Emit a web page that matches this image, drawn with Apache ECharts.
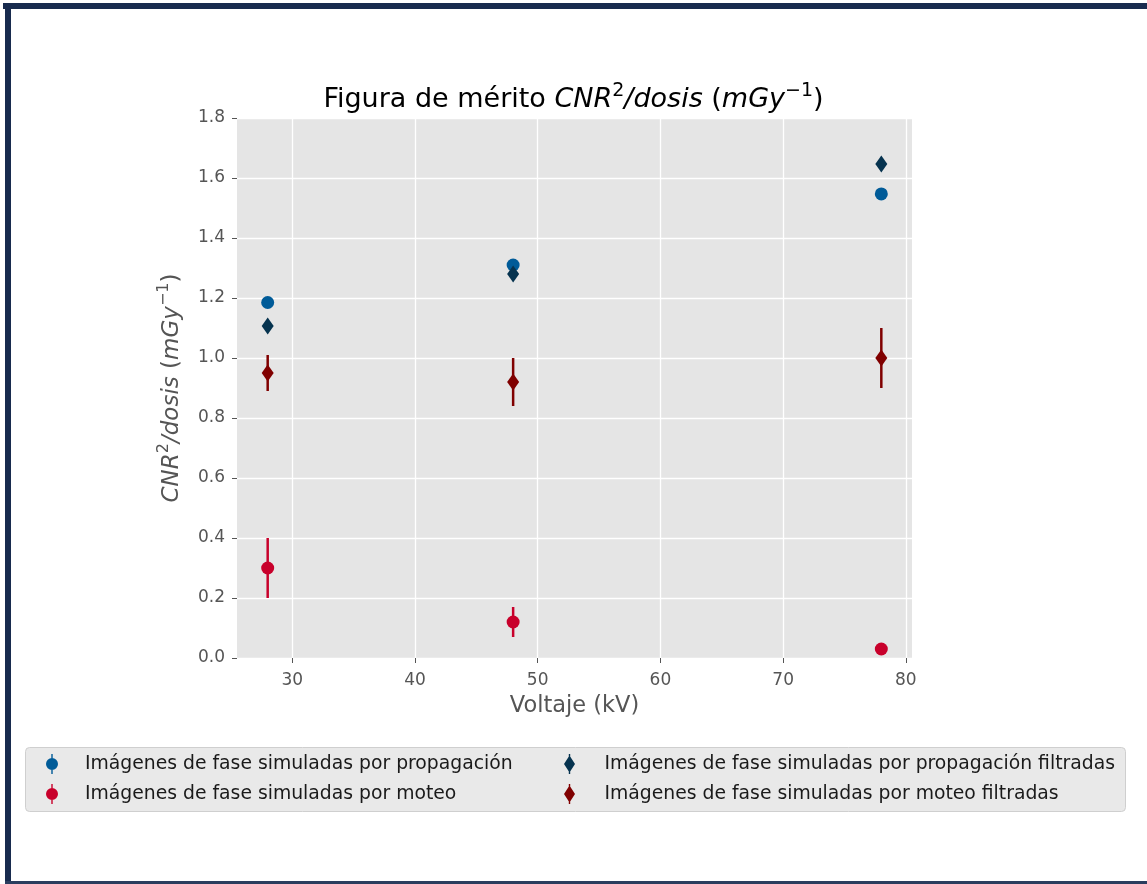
<!DOCTYPE html>
<html>
<head>
<meta charset="utf-8">
<title>Figura de mérito CNR²/dosis</title>
<script src="https://cdn.jsdelivr.net/npm/echarts@6/dist/echarts.min.js"></script>
<style>
  html, body { margin: 0; padding: 0; background: #ffffff; }
  #chart { width: 1147px; height: 884px; }
</style>
</head>
<body>
<div id="chart"></div>
<script>
// Tube voltage (kV) of each acquisition
const voltages = [28, 48, 78];

// CNR^2 / dose (mGy^-1) and its uncertainty for each image set
const propValues = [1.185, 1.31, 1.547];
const propErrors = [0.01, 0.01, 0.01];
const propFiltValues = [1.107, 1.28, 1.647];
const propFiltErrors = [0.01, 0.01, 0.01];
const moteoValues = [0.30, 0.12, 0.03];
const moteoErrors = [0.10, 0.05, 0.01];
const moteoFiltValues = [0.95, 0.92, 1.0];
const moteoFiltErrors = [0.06, 0.08, 0.10];

const xTicks = [30, 40, 50, 60, 70, 80];

const seriesNames = [
  'Imágenes de fase simuladas por propagación',
  'Imágenes de fase simuladas por moteo',
  'Imágenes de fase simuladas por propagación filtradas',
  'Imágenes de fase simuladas por moteo filtradas'
];

const FONT = 'DejaVu Sans';
const colors = ['#005b98', '#c8002b', '#06334f', '#800000'];
const symbols = ['circle', 'circle', 'diamond', 'diamond'];
const symbolSizes = [13, 13, [12, 17], [12, 17]];

// Legend glyphs: marker with a vertical error bar through it
const circleIcon = 'path://M5.3,0h1.4v20h-1.4z M0,10a6,6 0 1,1 12,0a6,6 0 1,1 -12,0z';
const diamondIcon = 'path://M5.3,0h1.4v20h-1.4z M6,1.5L11.5,10L6,18.5L0.5,10z';
const icons = [circleIcon, circleIcon, diamondIcon, diamondIcon];

const groups = [
  [propValues, propErrors],
  [moteoValues, moteoErrors],
  [propFiltValues, propFiltErrors],
  [moteoFiltValues, moteoFiltErrors]
];

const series = [];
groups.forEach(function (g, i) {
  const rows = voltages.map(function (v, k) { return [v, g[0][k], g[1][k]]; });
  series.push({
    name: seriesNames[i],
    type: 'custom',
    z: 2 + i * 2,
    data: rows,
    encode: { x: 0, y: 1 },
    renderItem: function (params, api) {
      const x = api.value(0), y = api.value(1), e = api.value(2);
      const lo = api.coord([x, y - e]);
      const hi = api.coord([x, y + e]);
      return {
        type: 'line',
        shape: { x1: lo[0], y1: lo[1], x2: hi[0], y2: hi[1] },
        style: { stroke: colors[i], lineWidth: 2.5 }
      };
    }
  });
  series.push({
    name: seriesNames[i],
    type: 'scatter',
    z: 3 + i * 2,
    symbol: symbols[i],
    symbolSize: symbolSizes[i],
    itemStyle: { color: colors[i], opacity: 1 },
    data: rows.map(function (r) { return [r[0], r[1]]; })
  });
});

function legendData(idx) {
  return idx.map(function (i) {
    return { name: seriesNames[i], icon: icons[i], itemStyle: { color: colors[i] } };
  });
}

function legendColumn(left, textIndent, idx) {
  return {
    orient: 'vertical',
    left: left,
    top: 754,
    itemWidth: 12,
    itemHeight: 20,
    itemGap: 10,
    padding: 0,
    data: legendData(idx),
    textStyle: {
      fontFamily: FONT, fontSize: 18.8, color: '#1a1a1a',
      padding: [0, 0, 0, textIndent]
    }
  };
}

const chart = echarts.init(document.getElementById('chart'), null, { renderer: 'canvas' });

chart.setOption({
  animation: false,
  backgroundColor: '#ffffff',
  textStyle: { fontFamily: FONT },
  title: {
    left: 'center',
    top: 77,
    text: '{n|Figura de mérito }{i|CNR}{s|2}{i|/dosis}{n| (}{i|mGy}{s|−1}{n|)}',
    textStyle: {
      fontWeight: 'normal',
      rich: {
        n: { fontFamily: FONT, fontSize: 27, lineHeight: 36, fontWeight: 'normal', color: '#000000' },
        i: { fontFamily: FONT, fontSize: 27, lineHeight: 36, fontWeight: 'normal', color: '#000000', fontStyle: 'italic' },
        s: { fontFamily: FONT, fontSize: 19, lineHeight: 22, fontWeight: 'normal', color: '#000000', verticalAlign: 'top' }
      }
    }
  },
  graphic: [
    // legend frame
    { type: 'rect', left: 25, top: 747, z: -1, silent: true,
      shape: { width: 1100, height: 64, r: 4 },
      style: { fill: '#e9e9e9', stroke: '#cfcfcf', lineWidth: 1 } },
    // page frame
    { type: 'rect', left: 3, top: 3, silent: true, shape: { width: 1144, height: 6 }, style: { fill: '#182b4e' } },
    { type: 'rect', left: 5, top: 3, silent: true, shape: { width: 6, height: 881 }, style: { fill: '#182b4e' } },
    { type: 'rect', left: 5, top: 881, silent: true, shape: { width: 1142, height: 3 }, style: { fill: '#2a3d5e' } }
  ],
  legend: [
    legendColumn(46, 22, [0, 1]),
    legendColumn(564, 24, [2, 3])
  ],
  grid: {
    left: 237, right: 235, top: 118, bottom: 226,
    show: true, backgroundColor: '#e5e5e5', borderWidth: 0
  },
  xAxis: {
    type: 'value',
    min: 25.5,
    max: 80.5,
    name: 'Voltaje (kV)',
    nameLocation: 'middle',
    nameGap: 37,
    nameTextStyle: { fontFamily: FONT, fontSize: 22.5, color: '#555555' },
    axisLine: { show: false },
    axisTick: { show: true, length: 5, customValues: xTicks, lineStyle: { color: '#555555', width: 1 } },
    axisLabel: { customValues: xTicks, margin: 14, fontFamily: FONT, fontSize: 17, color: '#555555' },
    splitLine: { show: true, lineStyle: { color: '#ffffff', width: 1.3 } }
  },
  yAxis: {
    type: 'value',
    min: 0,
    max: 1.8,
    interval: 0.2,
    name: '{i|CNR}{s|2}{i|/dosis}{n| (}{i|mGy}{s|−1}{n|)}',
    nameLocation: 'middle',
    nameGap: 49,
    nameTextStyle: {
      rich: {
        n: { fontFamily: FONT, fontSize: 23, lineHeight: 32, color: '#555555' },
        i: { fontFamily: FONT, fontSize: 23, lineHeight: 32, color: '#555555', fontStyle: 'italic' },
        s: { fontFamily: FONT, fontSize: 16, lineHeight: 19, color: '#555555', verticalAlign: 'top' }
      }
    },
    axisLine: { show: false },
    axisTick: { show: true, length: 5, lineStyle: { color: '#555555', width: 1 } },
    axisLabel: {
      margin: 12, fontFamily: FONT, fontSize: 17, color: '#555555',
      formatter: function (v) { return v.toFixed(1); }
    },
    splitLine: { show: true, lineStyle: { color: '#ffffff', width: 1.3 } }
  },
  series: series
});
</script>
</body>
</html>
